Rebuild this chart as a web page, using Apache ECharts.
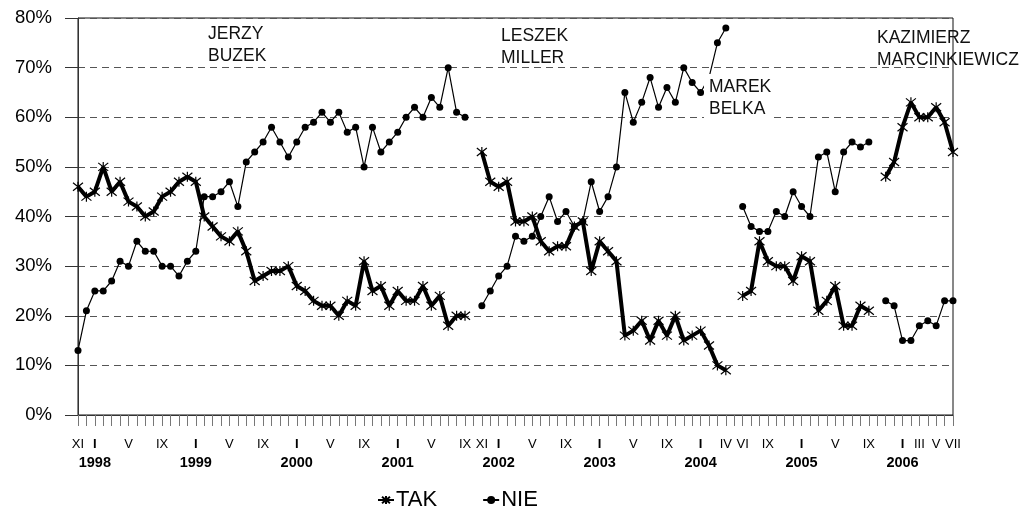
<!DOCTYPE html>
<html>
<head>
<meta charset="utf-8">
<script src="https://cdn.jsdelivr.net/npm/echarts@6/dist/echarts.min.js"></script>
<style>
  html, body { margin: 0; padding: 0; background: #fff; }
  #chart { width: 1034px; height: 506px; }
</style>
</head>
<body>
<div id="chart"></div>
<script>
// monthly categories, XI 1997 .. VII 2006
const months = []
for (let y = 1997, m = 11; y < 2006 || (y === 2006 && m <= 7); m++) {
  if (m > 12) { m = 1; y++ }
  if (y === 2006 && m > 7) break
  months.push(y + '-' + String(m).padStart(2, '0'))
}

// roman month labels shown under the axis
const tickLabels = {
  '1997-11': 'XI',
  '1998-01': 'I', '1998-05': 'V', '1998-09': 'IX',
  '1999-01': 'I', '1999-05': 'V', '1999-09': 'IX',
  '2000-01': 'I', '2000-05': 'V', '2000-09': 'IX',
  '2001-01': 'I', '2001-05': 'V', '2001-09': 'IX', '2001-11': 'XI',
  '2002-01': 'I', '2002-05': 'V', '2002-09': 'IX',
  '2003-01': 'I', '2003-05': 'V', '2003-09': 'IX',
  '2004-01': 'I', '2004-04': 'IV', '2004-06': 'VI', '2004-09': 'IX',
  '2005-01': 'I', '2005-05': 'V', '2005-09': 'IX',
  '2006-01': 'I', '2006-03': 'III', '2006-05': 'V', '2006-07': 'VII'
}

const tak = [
  46, 44, 45, 50, 45, 47, 43, 42, 40, 41, 44, 45, 47, 48, 47, 40, 38, 36, 35, 37,
  33, 27, 28, 29, 29, 30, 26, 25, 23, 22, 22, 20, 23, 22, 31, 25, 26, 22, 25, 23,
  23, 26, 22, 24, 18, 20, 20, null,
  53, 47, 46, 47, 39, 39, 40, 35, 33, 34, 34, 38, 39, 29, 35, 33, 31, 16, 17, 19,
  15, 19, 16, 20, 15, 16, 17, 14, 10, 9, null,
  24, 25, 35, 31, 30, 30, 27, 32, 31, 21, 23, 26, 18, 18, 22, 21, null,
  48, 51, 58, 63, 60, 60, 62, 59, 53
]

const nie = [
  13, 21, 25, 25, 27, 31, 30, 35, 33, 33, 30, 30, 28, 31, 33, 44, 44, 45, 47, 42,
  51, 53, 55, 58, 55, 52, 55, 58, 59, 61, 59, 61, 57, 58, 50, 58, 53, 55, 57, 60,
  62, 60, 64, 62, 70, 61, 60, null,
  22, 25, 28, 30, 36, 35, 36, 40, 44, 39, 41, 38, 39, 47, 41, 44, 50, 65, 59, 63,
  68, 62, 66, 63, 70, 67, 65, 68, 75, 78, null,
  42, 38, 37, 37, 41, 40, 45, 42, 40, 52, 53, 45, 53, 55, 54, 55, null,
  23, 22, 15, 15, 18, 19, 18, 23, 23
]

// name labels; only Belka's has an opaque box (it hides the line under it)
const primeMinisters = [
  { text: 'JERZY\nBUZEK', x: 208, y: 23, box: false },
  { text: 'LESZEK\nMILLER', x: 501, y: 25, box: false },
  { text: 'MAREK\nBELKA', x: 704, y: 74, box: true },
  { text: 'KAZIMIERZ\nMARCINKIEWICZ', x: 877, y: 27, box: false }
]

const FONT = '"Liberation Sans", Arial, sans-serif'
const starPath = 'path://M5 0L5 10M1 1L9 9M9 1L1 9'

const chart = echarts.init(document.getElementById('chart'))

chart.setOption({
  animation: false,
  backgroundColor: '#fff',
  textStyle: { fontFamily: FONT, color: '#000' },
  grid: {
    left: 78,
    right: 81,
    top: 18,
    bottom: 91,
    show: true,
    borderColor: '#111',
    borderWidth: 1
  },
  legend: {
    left: 372,
    top: 484,
    itemGap: 45,
    itemWidth: 16,
    itemHeight: 10,
    textStyle: { fontFamily: FONT, fontSize: 22, color: '#000', padding: [0, 0, 0, -3] },
    data: ['TAK', 'NIE']
  },
  xAxis: {
    type: 'category',
    data: months,
    boundaryGap: false,
    axisLine: { lineStyle: { color: '#333', width: 1 } },
    axisTick: {
      interval: 0,
      length: 11,
      lineStyle: { color: '#777', width: 1 }
    },
    axisLabel: {
      interval: 0,
      margin: 21,
      color: '#000',
      formatter: function (value) {
        const t = tickLabels[value]
        if (!t) return ''
        if (t === 'I') return '{j|I}\n{y|' + value.slice(0, 4) + '}'
        return '{m|' + t + '}'
      },
      rich: {
        m: { fontFamily: FONT, fontSize: 13, lineHeight: 16, color: '#000' },
        j: { fontFamily: FONT, fontSize: 13, fontWeight: 'bold', lineHeight: 16, color: '#000' },
        y: { fontFamily: FONT, fontSize: 14.5, fontWeight: 'bold', lineHeight: 22, color: '#000' }
      }
    },
    splitLine: { show: false }
  },
  yAxis: {
    type: 'value',
    min: 0,
    max: 80,
    interval: 10,
    axisLine: { show: true, lineStyle: { color: '#333', width: 1 } },
    axisTick: { show: true, length: 13, lineStyle: { color: '#333' } },
    axisLabel: {
      margin: 26,
      fontFamily: FONT,
      fontSize: 18.5,
      color: '#000',
      formatter: '{value}%'
    },
    splitLine: {
      lineStyle: { color: '#555', width: 1, type: [7, 5] }
    }
  },
  series: [
    {
      name: 'TAK',
      type: 'line',
      data: tak,
      symbol: starPath,
      symbolSize: 10,
      showAllSymbol: true,
      lineStyle: { color: '#000', width: 4 },
      itemStyle: { color: '#000', borderColor: '#000', borderWidth: 1.2 },
      z: 3
    },
    {
      name: 'NIE',
      type: 'line',
      data: nie,
      symbol: 'circle',
      symbolSize: 7,
      showAllSymbol: true,
      lineStyle: { color: '#000', width: 1.2 },
      itemStyle: { color: '#000', borderWidth: 0 },
      z: 4
    }
  ],
  graphic: primeMinisters.map(p => ({
    type: 'text',
    left: p.x,
    top: p.y,
    z: 100,
    style: {
      text: p.text,
      fontFamily: FONT,
      fontSize: 17.5,
      lineHeight: 22,
      fill: '#111',
      backgroundColor: p.box ? '#fff' : null,
      padding: p.box ? [2, 0, 0, 5] : 0
    }
  }))
})
</script>
</body>
</html>
